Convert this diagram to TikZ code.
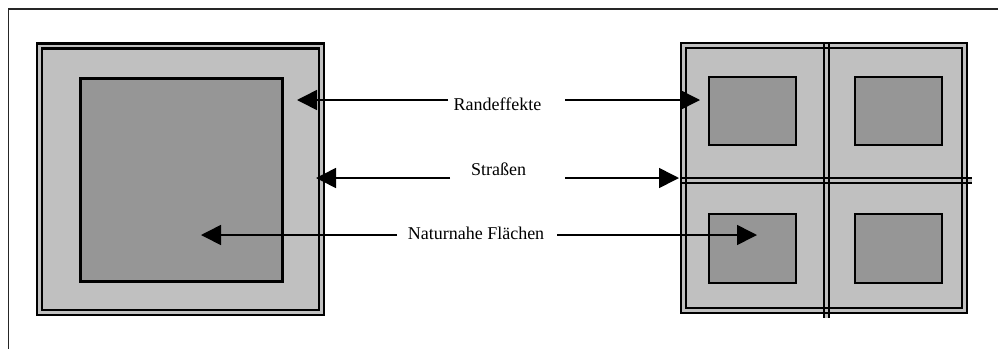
\documentclass[tikz,border=0pt]{standalone}
\usepackage{fontspec}
\setmainfont{Liberation Serif}
\usetikzlibrary{arrows.meta}
\definecolor{lightfill}{HTML}{C0C0C0}
\definecolor{darkfill}{HTML}{969696}
\begin{document}
\begin{tikzpicture}[x=1pt,y=-1pt,
  bline/.style={draw=black,line width=2.4pt},
  frameline/.style={draw=black!85,line width=1.4pt},
  inner/.style={draw=black,fill=darkfill,line width=2pt},
  bigin/.style={draw=black,fill=darkfill,line width=3.4pt},
  arr/.style={draw=black,line width=1.6pt,-{Triangle[length=20pt,width=20pt]}},
  lab/.style={font=\fontsize{18}{20}\selectfont,anchor=base,inner sep=0pt}]
\useasboundingbox (0,0) rectangle (998,349);
% outer frame (top and left only)
\coordinate (fTL) at (8.3,9);
\coordinate (fTR) at (998,9);
\coordinate (fBL) at (8.3,349);
\draw[frameline] (fTR) -- (fTL) -- (fBL);

% left square
\fill[lightfill] (37,43.3) rectangle (324,315);
\draw[bline] (37,43.3) rectangle (324,315);
\draw[bline] (42,48.3) rectangle (319,310);
\draw[bigin] (80.5,78.5) rectangle (282.5,281.5);

% right grid
\fill[lightfill] (681,43) rectangle (967,313);
\fill[lightfill] (824,43) rectangle (829,318);
\fill[lightfill] (681,178) rectangle (972,183);
\draw[inner] (709,77) rectangle (796,145);
\draw[inner] (855,77) rectangle (942,145);
\draw[inner] (709,214) rectangle (796,283);
\draw[inner] (855,214) rectangle (942,283);
\draw[bline] (681,43) rectangle (967,313);
\draw[bline] (686,48) rectangle (962,308);
\draw[bline] (824,43) -- (824,318);
\draw[bline] (829,43) -- (829,318);
\draw[bline] (681,178) -- (972,178);
\draw[bline] (681,183) -- (972,183);

% labels
\node[lab] (rand) at (497.5,110) {Randeffekte};
\node[lab] (str) at (498.5,175.7) {Straßen};
\node[lab] (nat) at (476,239.3) {Naturnahe Flächen};

% connector end points
\coordinate (randL) at (448,100);
\coordinate (randR) at (565,100);
\coordinate (randTL) at (297,100);
\coordinate (randTR) at (700,100);
\coordinate (strL) at (450,178);
\coordinate (strR) at (565,178);
\coordinate (strTL) at (316,178);
\coordinate (strTR) at (679,178);
\coordinate (natL) at (397,235);
\coordinate (natR) at (557,235);
\coordinate (natTL) at (201,235);
\coordinate (natTR) at (757,235);

\draw[arr] (randL) -- (randTL);
\draw[arr] (randR) -- (randTR);
\draw[arr] (strL) -- (strTL);
\draw[arr] (strR) -- (strTR);
\draw[arr] (natL) -- (natTL);
\draw[arr] (natR) -- (natTR);
\end{tikzpicture}
\end{document}
